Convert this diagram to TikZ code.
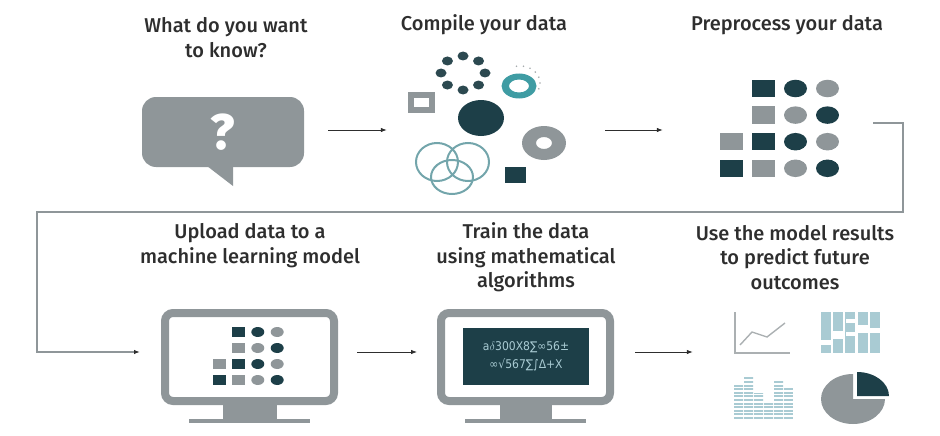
\documentclass[tikz,border=0pt]{standalone}
\usepackage{fontspec}
\usepackage{xcolor}
\setmainfont{Fira Sans Medium}
\newfontfamily\symbfont{DejaVu Sans Condensed}
\usetikzlibrary{arrows.meta,positioning}
\definecolor{deepteal}{HTML}{1D3F48}
\definecolor{midgray}{HTML}{8F9699}
\definecolor{ringteal}{HTML}{3F9CA3}
\definecolor{loopteal}{HTML}{73A5AB}
\definecolor{paleteal}{HTML}{A9CBD3}
\definecolor{inkgray}{HTML}{2E2E2E}

% one block of squares and dots: x, y of the first cell, steps, cell size
\newcommand{\datagrid}[6]{%
  \foreach \col/\row/\kind/\tone in {1/0/sq/deepteal,2/0/ci/deepteal,3/0/ci/midgray,
      1/1/sq/midgray,2/1/ci/midgray,3/1/ci/deepteal,
      0/2/sq/midgray,1/2/sq/deepteal,2/2/ci/deepteal,3/2/ci/midgray,
      0/3/sq/deepteal,1/3/sq/midgray,2/3/ci/midgray,3/3/ci/deepteal}{
    \pgfmathsetmacro{\cx}{#1+\col*#3}
    \pgfmathsetmacro{\cy}{#2-\row*#4}
    \ifnum\pdfstrcmp{\kind}{sq}=0
      \fill[\tone] (\cx-#5/2,\cy-#6/2) rectangle (\cx+#5/2,\cy+#6/2);
    \else
      \fill[\tone] (\cx,\cy) ellipse[x radius=#5/2, y radius=#6/2];
    \fi
  }%
}

\begin{document}
\begin{tikzpicture}[
    x=1pt, y=1pt,
    headtext/.style={align=center, text=inkgray, font=\fontsize{20}{24.6}\selectfont, inner sep=0pt},
    flow/.style={-{Latex[length=6pt,width=4.5pt]}, inkgray, line width=0.8pt},
    longflow/.style={-{Latex[length=6pt,width=4.5pt,color=inkgray]}, midgray, line width=1.5pt},
    frame/.style={inner sep=0pt, minimum width=#1, minimum height=104pt},
    monitor/.style={draw=midgray, line width=8pt, rounded corners=8pt, inner sep=0pt, minimum width=169pt, minimum height=88pt},
    bubble/.style={fill=midgray, rounded corners=14pt, text=white, inner sep=0pt, minimum width=162pt, minimum height=70pt, font=\bfseries\fontsize{50}{50}\selectfont},
    loopring/.style={draw=loopteal, line width=2pt},
    chartline/.style={draw=midgray!75, line width=1.8pt}
]
\useasboundingbox (0,0) rectangle (940,-436);

% headings
\node[headtext] (askhead) at (226,-37.5) {What do you want\\to know?};
\node[headtext] (compilehead) at (484,-25) {Compile your data};
\node[headtext] (preprocesshead) at (787,-25) {Preprocess your data};
\node[headtext] (uploadhead) at (250,-245.5) {Upload data to a\\machine learning model};
\node[headtext] (trainhead) at (526,-257.5) {Train the data\\using mathematical\\algorithms};
\node[headtext] (resultshead) at (795,-257.5) {Use the model results\\to predict future\\outcomes};

% first row
\node[bubble] (ask) at (223,-132) {?};
\fill[midgray] (207,-166) -- (233,-186) -- (233,-166) -- cycle;

\node[frame=158pt] (compile) at (487,-130) {};
\foreach \a in {0,45,...,315}
  \fill[deepteal!85!gray] (463,-73)++(\a:22pt and 17pt) ellipse[x radius=5.5, y radius=4.5];
\fill[ringteal, even odd rule] (519,-86) ellipse[x radius=17.5, y radius=12.5] ellipse[x radius=10, y radius=6.5];
\foreach \a in {-20,0,...,100}
  \fill[midgray!80] (520,-83)++(\a:20pt and 17pt) circle (0.9pt);
\draw[midgray, line width=5.5pt] (411,-95) rectangle (432,-110);
\fill[deepteal] (481,-118) ellipse[x radius=23, y radius=18];
\fill[midgray, even odd rule] (544,-143) ellipse[x radius=22, y radius=17] ellipse[x radius=8, y radius=6];
\draw[loopring] (437,-162) ellipse[x radius=21, y radius=19];
\draw[loopring] (468,-162) ellipse[x radius=21, y radius=19];
\draw[loopring] (452,-177) ellipse[x radius=21, y radius=17];
\fill[deepteal] (505,-167) rectangle (526,-183);

\node[frame=120pt] (preprocess) at (780,-130) {};
\datagrid{731.5}{-88.5}{32}{26.6}{23}{17.5}

% second row
\node[monitor] (upload) at (249.5,-357) {};
\fill[midgray] (223,-405) rectangle (277,-420);
\fill[midgray] (189,-419) rectangle (310,-423);
\datagrid{219}{-332}{19.4}{16}{13}{10}

\node[monitor] (train) at (525.5,-357) {};
\fill[midgray] (500,-405) rectangle (552,-420);
\fill[midgray] (465,-419) rectangle (586,-423);
\node[fill=deepteal, text=paleteal, minimum width=126pt, minimum height=57pt, inner sep=0pt, align=center,
      font=\symbfont\fontsize{12}{17.5}\selectfont] (screen) at (526,-356.5) {a$\mathit{\delta}$300X8∑∞56±\\∞√567∑∫Δ+X};

\node[frame=158pt] (results) at (811,-367) {};
% line chart
\draw[chartline] (735,-312) -- (735,-353) -- (790,-353);
\draw[chartline, line width=1.4pt] (740,-345) -- (752,-332) -- (767,-337) -- (785,-323);
% mosaic
\foreach \i in {0,...,4}
  \fill[paleteal] (821+\i*12.2,-312) rectangle (831+\i*12.2,-353);
\fill[white] (821,-340) rectangle (831,-345);
\fill[white] (833,-331) rectangle (843,-339);
\fill[white] (846,-319) rectangle (855,-323);
\fill[white] (858,-325) rectangle (868,-333);
\fill[white] (870,-328) rectangle (880,-333);
\fill[white] (846,-332) rectangle (855,-336);
% bars
\begin{scope}
\clip (734,-419) rectangle (743,-383) (744,-419) rectangle (753,-377) (754,-419) rectangle (763,-393)
      (764,-419) rectangle (773,-402) (774,-419) rectangle (783,-380) (784,-419) rectangle (793,-387);
\foreach \s in {0,...,12}
  \draw[paleteal, line width=2pt] (734,-418+\s*3.6) -- (793,-418+\s*3.6);
\end{scope}
% pie
\fill[midgray] (853,-399) -- (853,-374) arc[start angle=90, end angle=360, x radius=32, y radius=25] -- cycle;
\fill[deepteal] (857,-396) -- (857,-372) arc[start angle=90, end angle=0, x radius=32, y radius=24] -- cycle;

% connectors
\coordinate (bendright) at (903,-212);
\coordinate (bendleft) at (37,-212);
\draw[flow, shorten <=24pt, shorten >=21pt] ([yshift=2pt]ask.east) -- (compile.west);
\draw[flow, shorten <=39pt, shorten >=57pt] (compile.east) -- (preprocess.west);
\draw[longflow] ([xshift=33pt,yshift=7pt]preprocess.east) -| (bendright) -- (bendleft) |- ([xshift=-21pt,yshift=5pt]upload.west);
\draw[flow, shorten <=19pt, shorten >=20pt] ([yshift=5pt]upload.east) -- ([yshift=5pt]train.west);
\draw[flow, shorten <=21pt, shorten >=39pt] ([yshift=5pt]train.east) -- ([yshift=15pt]results.west);
\end{tikzpicture}
\end{document}
